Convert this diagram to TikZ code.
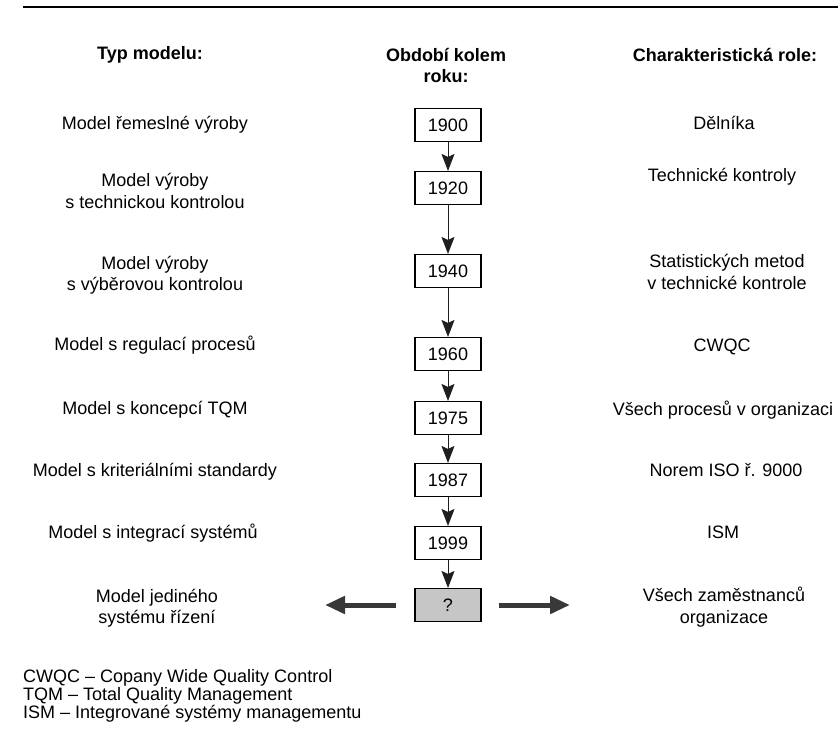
\documentclass[tikz,border=0pt]{standalone}
\usepackage{fontspec}
\setmainfont{Liberation Sans}
\usepackage{tikz}
\usetikzlibrary{arrows.meta}

\begin{document}
\begin{tikzpicture}[x=1pt,y=-1pt,font=\fontsize{18}{21.5}\selectfont,
 yr/.style={draw,line width=1.1pt,minimum width=66pt,minimum height=33pt,inner sep=0pt},
 t/.style={align=center},hd/.style={align=center,font=\fontsize{18}{21}\selectfont\bfseries},
 ar/.style={-{Stealth[length=17pt,width=13pt,inset=3pt]},line width=1pt,black!88},
 hr/.style={-{Triangle[length=20pt,width=17pt]},line width=5pt,black!78}]
\useasboundingbox (0,0) rectangle (838,740);
\draw[line width=1.6pt] (23,7) -- (838,7);
\node[hd] (h1) at (150,55) {Typ modelu:};
\node[hd] (h2) at (446,65) {Období kolem\\roku:};
\node[hd] (h3) at (725,55) {Charakteristická role:};
\node[t] (m1) at (155,125) {Model řemeslné výroby};
\node[t] (m2) at (155,191) {Model výroby\\s technickou kontrolou};
\node[t] (m3) at (155,275) {Model výroby\\s výběrovou kontrolou};
\node[t] (m4) at (155,345) {Model s regulací procesů};
\node[t] (m5) at (155,410) {Model s koncepcí TQM};
\node[t] (m6) at (155,472) {Model s kriteriálními standardy};
\node[t] (m7) at (153,533) {Model s integrací systémů};
\node[t] (m8) at (157,608) {Model jediného\\systému řízení};
\node[yr] (y1900) at (448,125) {1900};
\node[yr] (y1920) at (448,188) {1920};
\node[yr] (y1940) at (448,271) {1940};
\node[yr] (y1960) at (448,354) {1960};
\node[yr] (y1975) at (448,418) {1975};
\node[yr] (y1987) at (448,480) {1987};
\node[yr] (y1999) at (448,543) {1999};
\node[yr,fill=gray!45] (q) at (448,605) {?};
\node[t] (r1) at (724,123) {Dělníka};
\node[t] (r2) at (722,177) {Technické kontroly};
\node[t] (r3) at (727,272) {Statistických metod\\v technické kontrole};
\node[t] (r4) at (722,347) {CWQC};
\node[t] (r5) at (723,410) {Všech procesů v organizaci};
\node[t] (r6) at (726,470) {Norem ISO ř. 9000};
\node[t] (r7) at (723,532) {ISM};
\node[t] (r8) at (724,607) {Všech zaměstnanců\\organizace};
\draw[ar] (y1900) -- (y1920);
\draw[ar] (y1920) -- (y1940);
\draw[ar] (y1940) -- (y1960);
\draw[ar] (y1960) -- (y1975);
\draw[ar] (y1975) -- (y1987);
\draw[ar] (y1987) -- (y1999);
\draw[ar] (y1999) -- (q);
\coordinate (lt) at (325,605);
\coordinate (rt) at (570,605);
\draw[hr,shorten <=18pt] (q.west) -- (lt);
\draw[hr,shorten <=17pt] (q.east) -- (rt);
\node[align=left,anchor=west,inner sep=0pt,font=\fontsize{18}{16.3}\selectfont] (leg) at (23,696)
 {CWQC – Copany Wide Quality Control\\TQM – Total Quality Management\\ISM – Integrované systémy managementu};
\end{tikzpicture}
\end{document}
